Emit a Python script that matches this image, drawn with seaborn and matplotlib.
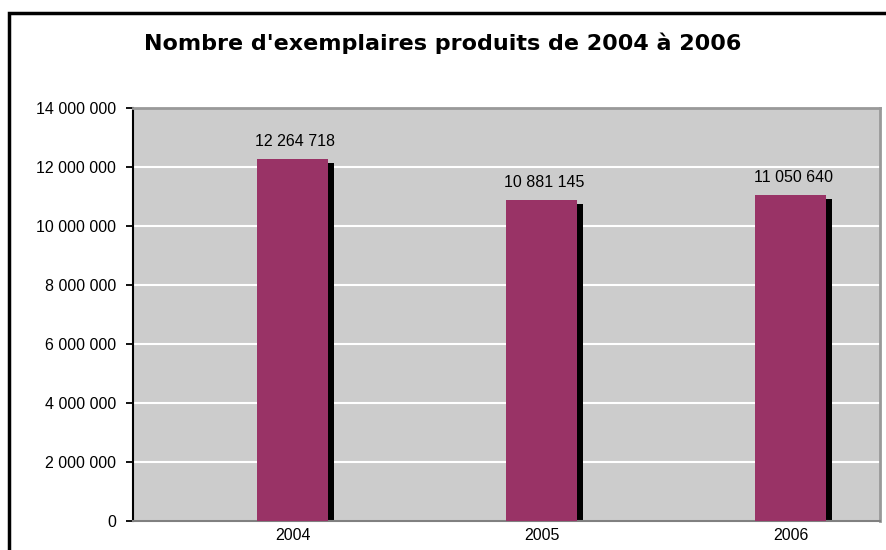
import numpy as np
import pandas as pd
import seaborn as sns
import matplotlib.pyplot as plt
from matplotlib.patches import Rectangle

years = ["2004", "2005", "2006"]
copies = [12264718, 10881145, 11050640]
labels = ["12 264 718", "10 881 145", "11 050 640"]

df = pd.DataFrame({"year": years, "copies": copies})

sns.set_style("white")
plt.rcParams["font.family"] = ["Liberation Sans", "DejaVu Sans"]
plt.rcParams["text.color"] = "black"
plt.rcParams["xtick.color"] = "black"
plt.rcParams["ytick.color"] = "black"

fig = plt.figure(figsize=(8.87, 5.5), dpi=100)
ax = fig.add_axes([133 / 887, 1 - 521 / 550, (880 - 133) / 887, (521 - 108) / 550])

# black drop shadow behind each bar
pos = np.arange(len(years))
ax.bar(pos + 0.021, np.array(copies) - 130000, width=0.288, color="black",
       linewidth=0, zorder=2)

sns.barplot(data=df, x="year", y="copies", color="#993366", saturation=1,
            width=0.288, linewidth=0, edgecolor="none", ax=ax, zorder=3)

ax.set_facecolor("#CCCCCC")
ax.set_xlim(-0.6406, 2.359)
ax.set_ylim(0, 14000000)
ticks = np.arange(0, 14000001, 2000000)
ax.set_yticks(ticks)
ax.set_yticklabels([f"{t:,}".replace(",", " ") for t in ticks])
ax.yaxis.grid(True, color="white", linewidth=1.5, zorder=1)
ax.set_axisbelow(True)
ax.set_xlabel("")
ax.set_ylabel("")
ax.tick_params(axis="y", length=5, width=1.3, labelsize=11.5, pad=7, left=True)
ax.tick_params(axis="x", length=0, labelsize=11.5, pad=5)

for s in ["top", "right"]:
    ax.spines[s].set_color("#999999")
    ax.spines[s].set_linewidth(2)
ax.spines["bottom"].set_color("#808080")
ax.spines["bottom"].set_linewidth(1.5)
ax.spines["left"].set_color("black")
ax.spines["left"].set_linewidth(1.5)

for i, lab in enumerate(labels):
    ax.text(pos[i] + 0.01, copies[i] + 600000, lab, ha="center", va="center", fontsize=11.5)

fig.text(443 / 887, 1 - 43 / 550, "Nombre d'exemplaires produits de 2004 à 2006",
         ha="center", va="center", fontsize=16, fontweight="bold", family="DejaVu Sans")

# chart frame
fig.patches.append(Rectangle((9.5 / 887, -0.05), 1.2, 1 - 13 / 550 + 0.05,
                             transform=fig.transFigure, fill=False,
                             edgecolor="black", linewidth=2.5))

fig.savefig("out.png", dpi=100)
